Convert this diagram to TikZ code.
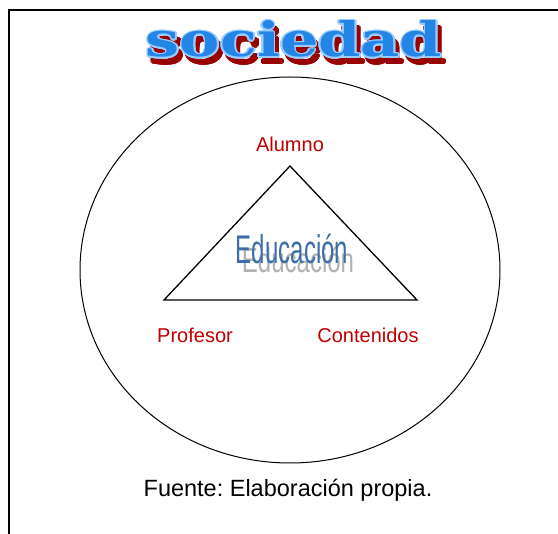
\documentclass[tikz,border=0pt]{standalone}
\usepackage{fontspec}
\setmainfont{Liberation Sans}
\newfontfamily\wordartfont{DejaVu Serif}
\usepackage{contour}
\contourlength{1.6pt}
\contournumber{16}
\definecolor{labelred}{HTML}{C00000}
\definecolor{edublue}{HTML}{3C6FA8}
\definecolor{wordfill}{HTML}{2385E6}
\definecolor{wordedge}{HTML}{99CCFF}
\definecolor{wordshadow}{HTML}{990000}
\frenchspacing
\begin{document}
\begin{tikzpicture}[x=1pt, y=-1pt,
  lbl/.style={text=labelred, font=\fontsize{20}{22}\selectfont, inner sep=0pt, anchor=base},
  soctext/.style={font=\wordartfont\bfseries\fontsize{56}{60}\selectfont, inner sep=0pt, anchor=base}]
\useasboundingbox (0,0) rectangle (558,534);
\draw[line width=2pt] (558,10) -- (9,10) -- (9,534);
% sociedad
\node[soctext, text=wordshadow] (socshadow) at (298,63) {\resizebox{296pt}{36pt}{\contour{wordshadow}{sociedad}}};
\node[soctext] (soc) at (294,57) {\resizebox{296pt}{36pt}{\contour{wordedge}{\textcolor{wordfill}{sociedad}}}};
% ellipse and triangle
\draw[line width=1pt] (290,270) ellipse [x radius=210, y radius=193];
\coordinate (alumno) at (290,166);
\coordinate (profesor) at (164,300);
\coordinate (contenidos) at (417,300);
\draw[line width=1.3pt] (alumno) -- (contenidos) -- (profesor) -- cycle;
\node[lbl] (lalumno) at (290,152) {Alumno};
\node[lbl] (lprofesor) at (195,343) {Profesor};
\node[lbl] (lcontenidos) at (368,343) {Contenidos};
% Educacion
\node[text=black!30, inner sep=0pt, anchor=base] (edushadow) at (298,273) {\scalebox{0.6}[0.87]{\fontsize{40}{42}\selectfont Educación}};
\node[text=edublue, inner sep=0pt, anchor=base] (edu) at (292,264) {\scalebox{0.6}[1]{\fontsize{40}{42}\selectfont Educación}};
\node[inner sep=0pt, anchor=base, font=\fontsize{23.5}{26}\selectfont] (fuente) at (288,497) {Fuente: Elaboración propia.};
\end{tikzpicture}
\end{document}
